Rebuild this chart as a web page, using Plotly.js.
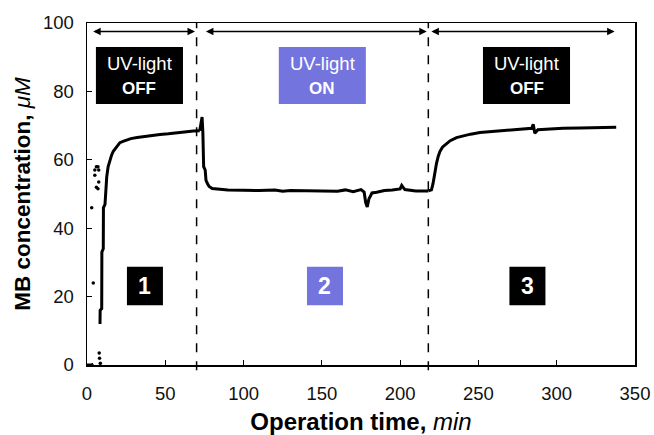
<!DOCTYPE html>
<html>
<head>
<meta charset="utf-8">
<script src="https://cdn.plot.ly/plotly-3.0.1.min.js"></script>
<style>html,body{margin:0;padding:0;background:#fff;}#chart{width:654px;height:435px;}</style>
</head>
<body>
<div id="chart"></div>
<script>
// Phase 1 main curve (UV-light OFF)
var phase1X = [8.3, 8.4, 9.4, 9.5, 10.4, 10.5, 11.5, 12, 12.6, 13.5, 14.7, 15.8, 16.8, 18.9, 21, 23, 25, 28, 32, 36, 41, 46.6, 52, 57, 62, 68, 72];
var phase1Y = [12, 16, 16.5, 33, 34, 46, 47, 52, 55, 58, 60, 61.5, 62.5, 63.7, 65, 65.4, 65.8, 66.2, 66.5, 66.8, 67.1, 67.4, 67.6, 67.9, 68.1, 68.4, 68.5];
// Phase 2 curve (UV-light ON)
var phase2X = [72, 73.5, 74, 74.5, 75.5, 76, 77, 78, 80, 85, 90, 100, 110, 120, 125, 130, 140, 150, 160, 165, 170, 175, 177, 178, 179, 180, 182, 185, 190, 195, 200, 201, 203, 210, 218];
var phase2Y = [68.5, 72.5, 68, 58, 57, 54, 53, 52.2, 51.6, 51.3, 51.2, 51.1, 51, 51.2, 50.8, 51, 50.9, 51, 50.8, 51.2, 50.7, 51.3, 50.6, 47.5, 46.2, 48.5, 50.3, 50.5, 51, 51.2, 51.5, 52.5, 51.3, 50.9, 50.9];
// Phase 3 curve (UV-light OFF)
var phase3X = [218, 220, 221, 222, 223.2, 224.3, 225.4, 227, 229.6, 232, 236, 240, 245, 251, 260, 272, 280, 284, 285, 286, 288, 295, 304, 315, 325, 332, 338];
var phase3Y = [50.9, 51.2, 53, 56, 58.9, 61, 62.4, 63.7, 64.8, 65.6, 66.5, 67, 67.5, 68, 68.3, 68.7, 68.9, 69.2, 70.4, 67.8, 68.8, 69, 69.2, 69.3, 69.3, 69.5, 69.5];
// Start-up baseline and scattered readings
var baseX = [0, 1, 2, 3, 4];
var baseY = [0, 0, 0, 0, 0.3];
var dotsX = [4, 3, 5, 5, 6, 7, 7.5, 6, 7, 7.5, 7.8, 8, 8.5];
var dotsY = [24, 46, 57, 55.5, 58, 58, 57, 52, 51.5, 53.5, 3.5, 2, 0.5];
// Phase boundaries and annotations
var boundaries = [70, 218];
var phaseArrows = [[3, 69], [75, 217], [219, 337]];
var labelTexts = ["OFF", "ON", "OFF"];
var labelCenters = [33.5, 150.3, 280.7];
var numberLabels = ["1", "2", "3"];
var numberCenters = [37, 152, 281.3];
var phaseColors = ["#000000", "#7474de", "#000000"];

var FONT = "Arial, 'Liberation Sans', sans-serif";

var traces = [
  {x: baseX, y: baseY, mode: "lines", line: {color: "#000", width: 3}, hoverinfo: "skip"},
  {x: phase1X, y: phase1Y, mode: "lines", line: {color: "#000", width: 3}, hoverinfo: "skip"},
  {x: phase2X, y: phase2Y, mode: "lines", line: {color: "#000", width: 3}, hoverinfo: "skip"},
  {x: phase3X, y: phase3Y, mode: "lines", line: {color: "#000", width: 3}, hoverinfo: "skip"},
  {x: dotsX, y: dotsY, mode: "markers", marker: {color: "#000", size: 3.5}, hoverinfo: "skip"}
];

var shapes = [];
var annotations = [];
boundaries.forEach(function (b) {
  shapes.push({type: "line", xref: "x", yref: "paper", x0: b, x1: b, y0: -0.015, y1: 1,
    line: {color: "#000", width: 1.5, dash: "dash"}});
});
phaseArrows.forEach(function (a) {
  annotations.push({x: a[1], y: 97.5, ax: a[0], ay: 97.5, xref: "x", yref: "y", axref: "x", ayref: "y",
    text: "", showarrow: true, arrowhead: 2, startarrowhead: 2, arrowside: "end+start",
    arrowsize: 1, arrowwidth: 1.5, arrowcolor: "#000", standoff: 0, startstandoff: 0});
});
labelTexts.forEach(function (t, i) {
  var c = labelCenters[i];
  shapes.push({type: "rect", xref: "x", yref: "y", x0: c - 27.8, x1: c + 27.8, y0: 76.3, y1: 93,
    fillcolor: phaseColors[i], line: {width: 0}, layer: "above"});
  annotations.push({x: c, y: 88.3, xref: "x", yref: "y", text: "UV-light", showarrow: false,
    font: {family: FONT, size: 18.5, color: "#fff"}});
  annotations.push({x: c, y: 80.9, xref: "x", yref: "y", text: "<b>" + t + "</b>", showarrow: false,
    font: {family: FONT, size: 17, color: "#fff"}});
});
numberLabels.forEach(function (t, i) {
  var c = numberCenters[i];
  shapes.push({type: "rect", xref: "x", yref: "y", x0: c - 11.5, x1: c + 11.5, y0: 17.5, y1: 28.7,
    fillcolor: phaseColors[i], line: {width: 0}, layer: "above"});
  annotations.push({x: c, y: 23.1, xref: "x", yref: "y", text: "<b>" + t + "</b>", showarrow: false,
    font: {family: FONT, size: 23, color: "#fff"}});
});

var layout = {
  width: 654, height: 435,
  margin: {l: 87, r: 19, t: 23, b: 70},
  paper_bgcolor: "#fff", plot_bgcolor: "#fff",
  showlegend: false,
  font: {family: FONT, color: "#111"},
  xaxis: {
    range: [0, 350], dtick: 50, tick0: 0, ticks: "inside", ticklen: 5, tickwidth: 1.2, tickcolor: "#000",
    showline: true, linecolor: "#000", linewidth: 1.5, mirror: true, showgrid: false, zeroline: false,
    tickfont: {family: FONT, size: 18.5, color: "#111"}, ticklabelstandoff: 11,
    title: {text: "<b>Operation time, </b><i>min</i>", font: {family: FONT, size: 24, color: "#000"}, standoff: 13}
  },
  yaxis: {
    range: [0, 100], dtick: 20, tick0: 0, ticks: "inside", ticklen: 5, tickwidth: 1.2, tickcolor: "#000",
    showline: true, linecolor: "#000", linewidth: 1.5, mirror: true, showgrid: false, zeroline: false,
    tickfont: {family: FONT, size: 18.5, color: "#111"}, ticklabelstandoff: 8,
    title: {text: "<b>MB concentration, </b><i>μM</i>", font: {family: FONT, size: 22.5, color: "#000"}, standoff: 6}
  },
  shapes: shapes,
  annotations: annotations
};

Plotly.newPlot("chart", traces, layout, {staticPlot: true, displayModeBar: false});
</script>
</body>
</html>
